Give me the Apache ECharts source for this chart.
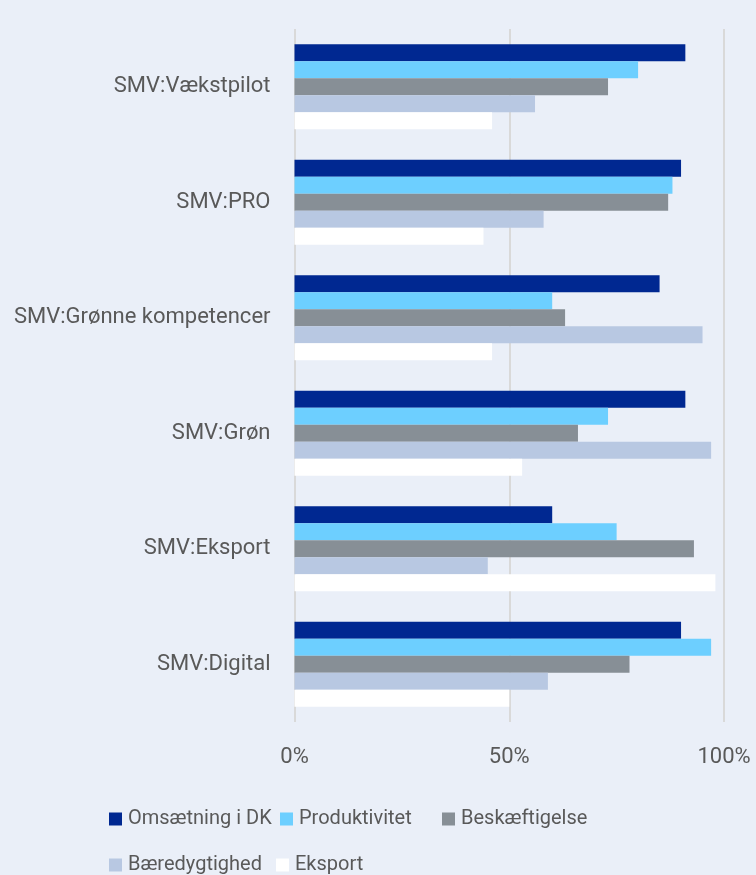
<!DOCTYPE html>
<html>
<head>
<meta charset="utf-8">
<script src="https://cdn.jsdelivr.net/npm/echarts@6/dist/echarts.min.js"></script>
<style>
html,body{margin:0;padding:0;background:#EAEFF8;}
#chart{width:756px;height:875px;}
</style>
</head>
<body>
<div id="chart"></div>
<script>
const categories = ["SMV:Vækstpilot", "SMV:PRO", "SMV:Grønne kompetencer", "SMV:Grøn", "SMV:Eksport", "SMV:Digital"];
const seriesNames = ["Omsætning i DK", "Produktivitet", "Beskæftigelse", "Bæredygtighed", "Eksport"];
const omsaetning = [91, 90, 85, 91, 60, 90];
const produktivitet = [80, 88, 60, 73, 75, 97];
const beskaeftigelse = [73, 87, 63, 66, 93, 78];
const baeredygtighed = [56, 58, 95, 97, 45, 59];
const eksport = [46, 44, 46, 53, 98, 50];
const xTicks = [0, 50, 100];

const colors = ["#002891", "#6DCFFF", "#878F96", "#B8C8E2", "#FFFFFF"];
const values = [omsaetning, produktivitet, beskaeftigelse, baeredygtighed, eksport];
const FONT = "Roboto";
const textColor = "#595959";

const legendPos = [
  {left: 109, top: 809},
  {left: 280, top: 809},
  {left: 442, top: 809},
  {left: 109, top: 855},
  {left: 276, top: 855}
];

const chart = echarts.init(document.getElementById('chart'), null, {renderer: 'canvas'});
chart.setOption({
  backgroundColor: "#EAEFF8",
  animation: false,
  textStyle: {fontFamily: FONT},
  legend: seriesNames.map((n, i) => ({
    data: [n],
    left: legendPos[i].left,
    top: legendPos[i].top,
    icon: 'rect',
    itemWidth: 13,
    itemHeight: 13,
    itemGap: 0,
    padding: 0,
    selectedMode: false,
    textStyle: {fontFamily: FONT, fontSize: 20, color: textColor, padding: [0, 0, 0, 1]}
  })),
  grid: {left: 294.5, right: 32, top: 29, bottom: 153, containLabel: false},
  xAxis: {
    type: 'value',
    min: 0,
    max: 100,
    interval: 50,
    axisLine: {show: false},
    axisTick: {show: false},
    splitLine: {show: true, lineStyle: {color: "#D9D9D9", width: 2}},
    axisLabel: {
      formatter: v => xTicks.includes(v) ? v + '%' : '',
      fontFamily: FONT, fontSize: 22, color: textColor, margin: 24
    }
  },
  yAxis: {
    type: 'category',
    data: categories,
    inverse: true,
    axisLine: {show: false},
    axisTick: {show: false},
    splitLine: {show: false},
    axisLabel: {fontFamily: FONT, fontSize: 22, color: textColor, margin: 24}
  },
  series: seriesNames.map((n, i) => ({
    name: n,
    type: 'bar',
    data: values[i],
    barGap: '0%',
    barCategoryGap: '26.4%',
    itemStyle: {color: colors[i]}
  }))
});
</script>
</body>
</html>
